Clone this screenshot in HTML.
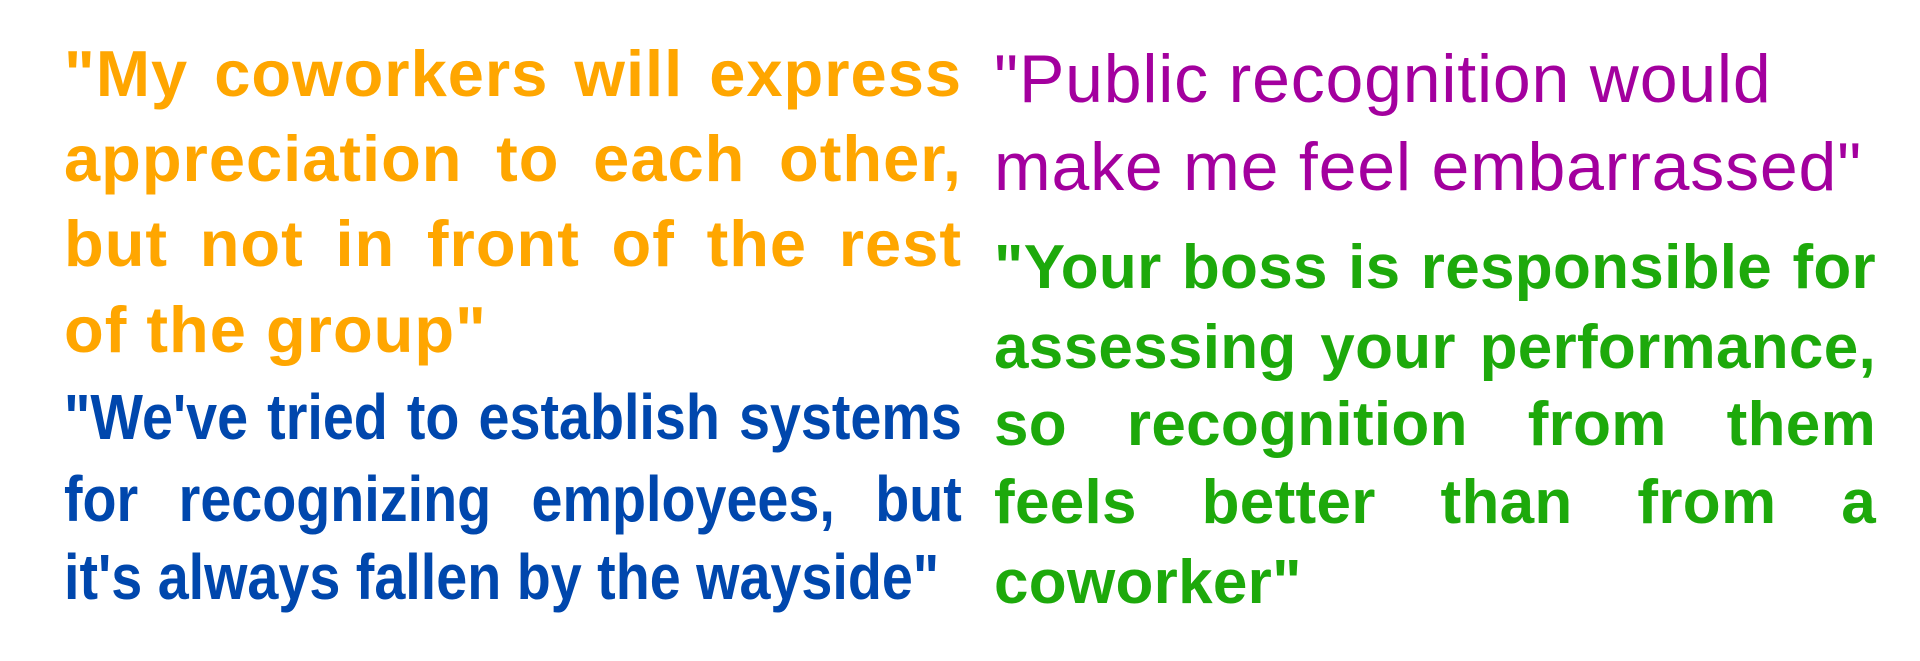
<!DOCTYPE html>
<html><head><meta charset="utf-8"><style>
html,body{margin:0;padding:0;background:#fff;width:1920px;height:661px;overflow:hidden;position:relative}
.l{position:absolute;white-space:nowrap;line-height:70px;height:70px;text-align:justify;text-align-last:justify}
.last{text-align-last:left}
.o{left:64px;width:898px;color:#FFA600;font:bold 65px "Liberation Sans",sans-serif;letter-spacing:1px}
.p{left:994px;width:900px;color:#A3009E;font:68px "Liberation Sans",sans-serif;letter-spacing:0.8px}
.b{left:64px;width:1032px;color:#0047AD;font:bold 64px "Liberation Sans",sans-serif;transform:scaleX(0.87);transform-origin:0 0}
.g{left:994px;width:882px;color:#1DA90B;font:bold 62px "Liberation Sans",sans-serif;letter-spacing:0.3px}
</style></head><body>
<div>
<div class="l o" style="top:36px">"My coworkers will express</div>
<div class="l o" style="top:121px">appreciation to each other,</div>
<div class="l o" style="top:206px">but not in front of the rest</div>
<div class="l o last" style="top:292px">of the group"</div>
</div>
<div>
<div class="l p last" style="top:40px">"Public recognition would</div>
<div class="l p last" style="top:128px">make me feel embarrassed"</div>
</div>
<div>
<div class="l b" style="top:380px">"We've tried to establish systems</div>
<div class="l b" style="top:462px">for recognizing employees, but</div>
<div class="l b last" style="top:540px">it's always fallen by the wayside"</div>
</div>
<div>
<div class="l g" style="top:232px">"Your boss is responsible for</div>
<div class="l g" style="top:312px">assessing your performance,</div>
<div class="l g" style="top:389px">so recognition from them</div>
<div class="l g" style="top:467px">feels better than from a</div>
<div class="l g last" style="top:547px">coworker"</div>
</div>
</body></html>
